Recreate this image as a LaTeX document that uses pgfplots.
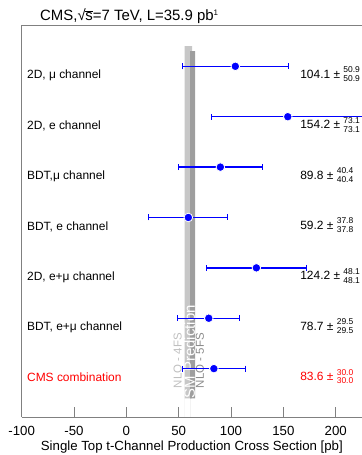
\documentclass[border=0pt]{standalone}
\usepackage{pgfplots}
\pgfplotsset{compat=1.18}
\usepackage{fontspec}
\setmainfont{Liberation Sans}
\newcommand\val[3]{#1 ± $\vcenter{\hbox{\fontsize{8.5}{9}\selectfont\begin{tabular}{@{}l@{}}#2\\#3\end{tabular}}}$}
\begin{document}
\begin{tikzpicture}
\begin{axis}[
 scale only axis, width=340.3bp, height=392bp,
 xmin=-100, xmax=225.1, ymin=0.04, ymax=7.82,
 axis line style={draw=none},
 xtick={-100,-50,...,200}, ytick=\empty,
 xtick pos=bottom, tick align=inside, major tick length=10bp,
 tick style={black!50, line width=0.8pt},
 /pgf/number format/assume math mode=true,
 xticklabel style={font=\fontsize{13.3}{14}\selectfont, yshift=-5.5bp},
 xlabel={Single Top t-Channel Production Cross Section [pb]},
 xlabel style={font=\fontsize{13.3}{14}\selectfont, at={(axis description cs:0.5,0)}, anchor=base, inner sep=0pt, yshift=-33bp},
 clip=true,
]
% SM prediction bands
\addplot[fill=black!22, draw=none] coordinates {(55.7,0.41) (62.7,0.41) (62.7,7.40) (55.7,7.40)} \closedcycle;
\addplot[fill=black!38, draw=none] coordinates {(60.8,0.41) (65.6,0.41) (65.6,7.30) (60.8,7.30)} \closedcycle;
\node[rotate=90, anchor=west, inner sep=0pt, text=white, font=\fontsize{15}{15}\selectfont] at (axis cs:60.3,0.41) {SM Prediction};
\node[rotate=90, anchor=west, inner sep=0pt, text=black!25, font=\fontsize{11.5}{12}\selectfont] at (axis cs:48.9,0.61) {NLO - 4FS};
\node[rotate=90, anchor=west, inner sep=0pt, text=black!45, font=\fontsize{11.5}{12}\selectfont] at (axis cs:70.3,0.61) {NLO - 5FS};
% measurements
\addplot[blue, only marks, mark=*, mark size=4.3pt,
  mark options={fill=blue, draw=white, line width=0.8pt},
  error bars/.cd, x dir=both, x explicit,
  error bar style={blue, line width=1.4pt},
  error mark options={rotate=90, draw=blue, mark size=3bp, line width=1pt}]
 table[x=x, y=y, x error=e] {
 x y e
 104.1 7 50.9
 154.2 6 73.1
 89.8 5 40.4
 59.2 4 37.8
 124.2 3 48.1
 78.7 2 29.5
 83.6 1 30.0
 };
% labels
\begin{scope}[every node/.style={anchor=west, inner sep=0pt, font=\fontsize{12}{14}\selectfont}]
\node at (axis cs:-95,6.82) {2D, μ channel};
\node at (axis cs:-95,5.82) {2D, e channel};
\node at (axis cs:-95,4.82) {BDT,μ channel};
\node at (axis cs:-95,3.82) {BDT, e channel};
\node at (axis cs:-95,2.82) {2D, e+μ channel};
\node at (axis cs:-95,1.82) {BDT, e+μ channel};
\node[text=red] at (axis cs:-95,0.82) {CMS combination};
\node at (axis cs:166,6.82) {\val{104.1}{50.9}{50.9}};
\node at (axis cs:166,5.82) {\val{154.2}{73.1}{73.1}};
\node at (axis cs:166,4.82) {\val{89.8}{40.4}{40.4}};
\node at (axis cs:166,3.82) {\val{59.2}{37.8}{37.8}};
\node at (axis cs:166,2.82) {\val{124.2}{48.1}{48.1}};
\node at (axis cs:166,1.82) {\val{78.7}{29.5}{29.5}};
\node[text=red] at (axis cs:166,0.82) {\val{83.6}{30.0}{30.0}};
\end{scope}
\end{axis}
\draw[black!50, line width=0.8pt] (current axis.south west) -- (current axis.south east);
\draw[black!50, line width=0.8pt] (current axis.south west) -- (current axis.north west) -- (current axis.north east);
\node[anchor=base west, inner sep=0pt, font=\fontsize{15}{16}\selectfont] at ([shift={(18.3bp,4bp)}]current axis.north west) {CMS,√\kern-0.3pt$\overline{\mbox{s}}$=7 TeV, L=35.9 pb$^{\mbox{\fontsize{8}{8}\selectfont 1}}$};
\pgfresetboundingbox
\path ([shift={(-21.7bp,-38bp)}]current axis.south west) rectangle ([shift={(0bp,25bp)}]current axis.north east);
\end{tikzpicture}
\end{document}
